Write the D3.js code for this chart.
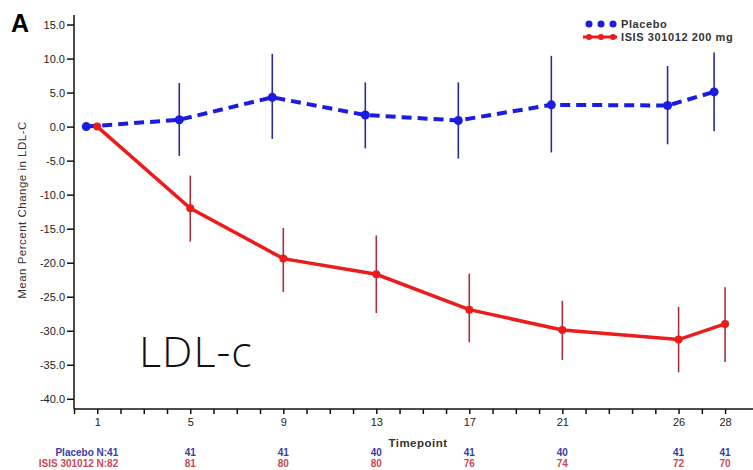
<!DOCTYPE html>
<meta charset="utf-8">
<style>
body { margin: 0; background: #fff; }
svg { font-family: "Liberation Sans", Arial, sans-serif; }
.axis path, .axis line { stroke: #111; stroke-width: 1.5; }
.axis text { font-size: 11px; fill: #222; }
</style>
<svg width="753" height="470"></svg>
<script src="https://d3js.org/d3.v7.min.js"></script>
<script>

// weeks (timepoints)
var weeks = [1, 5, 9, 13, 17, 21, 26, 28];

// placebo mean % change and error bar ends
var placeboMean = [0.0, 1.0, 4.3, 1.7, 0.9, 3.2, 3.1, 5.1];
var placeboHi   = [0.0, 6.4, 10.7, 6.5, 6.5, 10.4, 8.9, 10.9];
var placeboLo   = [0.0, -4.3, -1.8, -3.2, -4.7, -3.8, -2.6, -0.7];

// ISIS 301012 200 mg
var isisMean = [0.0, -12.0, -19.4, -21.7, -26.9, -29.9, -31.3, -29.0];
var isisHi   = [0.0, -7.2, -14.9, -16.0, -21.6, -25.6, -26.5, -23.6];
var isisLo   = [0.0, -16.9, -24.3, -27.4, -31.7, -34.3, -36.1, -34.6];

// patient counts under the axis
var placeboN = [41, 41, 41, 40, 41, 40, 41, 41];
var isisN    = [82, 81, 80, 80, 76, 74, 72, 70];

var yTicks = [15, 10, 5, 0, -5, -10, -15, -20, -25, -30, -35, -40];

var svg = d3.select("svg");

var x = d3.scaleLinear().domain([0, 29.2]).range([74, 753]);
var y = d3.scaleLinear().domain([-41.5, 16.4]).range([409, 15]);

var blue = "#1c1ce0", blueBar = "#2a2aa0";
var red = "#ec1c1c", redBar = "#a8303c";
var dodge = -11; // placebo drawn slightly left of the tick

var placebo = weeks.map(function(w, i) {
  return {w: w, m: placeboMean[i], hi: placeboHi[i], lo: placeboLo[i]};
});
var isis = weeks.map(function(w, i) {
  return {w: w, m: isisMean[i], hi: isisHi[i], lo: isisLo[i]};
});

// axes
svg.append("g")
    .attr("class", "axis")
    .attr("transform", "translate(74,0)")
    .call(d3.axisLeft(y).tickValues(yTicks).tickSize(7).tickPadding(2)
      .tickFormat(function(d) { return d.toFixed(1); }))
    .call(function(g) { g.select(".domain").attr("d", "M0,15V409"); });

var xTicks = d3.range(0, 29);
svg.append("g")
    .attr("class", "axis")
    .attr("transform", "translate(0,409)")
    .call(d3.axisBottom(x).tickValues(xTicks).tickSize(5).tickPadding(4)
      .tickFormat(function(d) { return weeks.indexOf(d) >= 0 ? d : ""; }))
    .call(function(g) { g.select(".domain").attr("d", "M74,0H753"); });

// error bars
svg.append("g").selectAll("line")
  .data(placebo.slice(1)).enter().append("line")
    .attr("x1", function(d) { return x(d.w) + dodge; })
    .attr("x2", function(d) { return x(d.w) + dodge; })
    .attr("y1", function(d) { return y(d.hi); })
    .attr("y2", function(d) { return y(d.lo); })
    .attr("stroke", blueBar).attr("stroke-width", 1.6);

svg.append("g").selectAll("line")
  .data(isis.slice(1)).enter().append("line")
    .attr("x1", function(d) { return x(d.w); })
    .attr("x2", function(d) { return x(d.w); })
    .attr("y1", function(d) { return y(d.hi); })
    .attr("y2", function(d) { return y(d.lo); })
    .attr("stroke", redBar).attr("stroke-width", 1.6);

// lines
svg.append("path")
    .datum(placebo)
    .attr("fill", "none")
    .attr("stroke", blue)
    .attr("stroke-width", 4)
    .attr("stroke-dasharray", "10,6")
    .attr("d", d3.line().x(function(d) { return x(d.w) + dodge; }).y(function(d) { return y(d.m); }));

svg.append("path")
    .datum(isis)
    .attr("fill", "none")
    .attr("stroke", red)
    .attr("stroke-width", 3.5)
    .attr("d", d3.line().x(function(d) { return x(d.w); }).y(function(d) { return y(d.m); }));

// points
svg.append("g").selectAll("circle")
  .data(placebo).enter().append("circle")
    .attr("cx", function(d) { return x(d.w) + dodge; })
    .attr("cy", function(d) { return y(d.m); })
    .attr("r", 4.5).attr("fill", blue);

svg.append("g").selectAll("circle")
  .data(isis).enter().append("circle")
    .attr("cx", function(d) { return x(d.w); })
    .attr("cy", function(d) { return y(d.m); })
    .attr("r", 4).attr("fill", red);

// y label
svg.append("text")
    .attr("transform", "translate(26,210) rotate(-90)")
    .attr("text-anchor", "middle")
    .attr("font-size", 11.5)
    .attr("fill", "#333")
    .attr("letter-spacing", 0.5)
    .text("Mean Percent Change in LDL-C");

// x label
svg.append("text")
    .attr("x", 418).attr("y", 447)
    .attr("text-anchor", "middle")
    .attr("font-size", 11.5)
    .attr("font-weight", "bold")
    .attr("fill", "#333")
    .attr("letter-spacing", 0.5)
    .text("Timepoint");

// counts
var counts = svg.append("g").attr("font-size", 10).attr("font-weight", "bold");
counts.selectAll(".np").data(weeks).enter().append("text")
    .attr("x", function(d, i) { return i === 0 ? x(d) + 21 : x(d); })
    .attr("y", 456)
    .attr("text-anchor", function(d, i) { return i === 0 ? "end" : "middle"; })
    .attr("fill", "#3a3aa8")
    .text(function(d, i) { return i === 0 ? "Placebo N:" + placeboN[i] : placeboN[i]; });
counts.selectAll(".ni").data(weeks).enter().append("text")
    .attr("x", function(d, i) { return i === 0 ? x(d) + 21 : x(d); })
    .attr("y", 467)
    .attr("text-anchor", function(d, i) { return i === 0 ? "end" : "middle"; })
    .attr("fill", "#c84858")
    .text(function(d, i) { return i === 0 ? "ISIS 301012 N:" + isisN[i] : isisN[i]; });

// legend
var lg = svg.append("g").attr("font-size", 11).attr("fill", "#333").attr("letter-spacing", 0.6);
lg.selectAll(".ld").data([0, 1, 2]).enter().append("circle")
    .attr("cx", function(d) { return 589 + d * 12; })
    .attr("cy", 24).attr("r", 3.5).attr("fill", blue);
lg.append("text").attr("x", 621).attr("y", 28).attr("font-weight", "bold").text("Placebo");
lg.append("line").attr("x1", 583).attr("x2", 617).attr("y1", 37).attr("y2", 37)
    .attr("stroke", red).attr("stroke-width", 3);
lg.selectAll(".lr").data([0, 1, 2]).enter().append("circle")
    .attr("cx", function(d) { return 589 + d * 12; })
    .attr("cy", 37).attr("r", 3).attr("fill", red);
lg.append("text").attr("x", 621).attr("y", 41).attr("font-weight", "bold").text("ISIS 301012 200 mg");

// panel letter
svg.append("text").attr("x", 11).attr("y", 32)
    .attr("font-size", 25).attr("font-weight", "bold").attr("fill", "#000")
    .text("A");

// big label
svg.append("text").attr("x", 139).attr("y", 367)
    .attr("font-family", "'Open Sans', sans-serif")
    .attr("font-weight", 300)
    .attr("font-size", 43).attr("fill", "#111")
    .attr("letter-spacing", 1)
    .text("LDL-c");

</script>
